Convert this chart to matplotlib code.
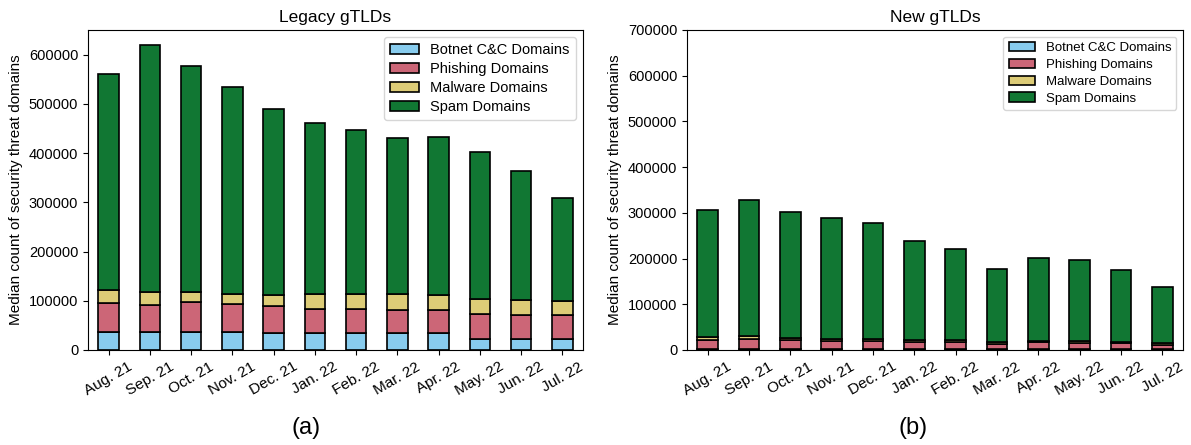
import matplotlib.pyplot as plt
import numpy as np

plt.rcParams['font.family'] = ['Liberation Sans', 'DejaVu Sans']

months = ["Aug. 21", "Sep. 21", "Oct. 21", "Nov. 21", "Dec. 21", "Jan. 22",
          "Feb. 22", "Mar. 22", "Apr. 22", "May. 22", "Jun. 22", "Jul. 22"]

# Legacy gTLDs (median counts)
legacy_botnet = [36000, 36000, 37000, 36000, 35000, 35000, 34000, 34000, 34000, 23000, 22000, 22000]
legacy_phishing = [59000, 56000, 60000, 57000, 54000, 49000, 49000, 48000, 47000, 51000, 50000, 49000]
legacy_malware = [26000, 25000, 20000, 20000, 22000, 29500, 30500, 31000, 31000, 30000, 30000, 28000]
legacy_spam = [439000, 502000, 459000, 422000, 378000, 348500, 333500, 317000, 320000, 298000, 262000, 210000]

# New gTLDs (median counts)
new_botnet = [3000, 3000, 3000, 2500, 2500, 2500, 2500, 2000, 2500, 2500, 2000, 2000]
new_phishing = [19600, 21800, 19600, 17200, 16500, 14500, 14500, 12000, 14500, 13500, 12500, 9600]
new_malware = [5100, 5800, 3400, 3300, 4000, 4000, 4000, 3500, 3000, 3700, 3500, 4400]
new_spam = [278300, 298400, 276000, 265000, 254500, 218000, 200000, 160500, 181000, 176300, 157500, 122000]

labels = ["Botnet C&C Domains", "Phishing Domains", "Malware Domains", "Spam Domains"]
colors = ["#88CCEE", "#CC6677", "#DDCC77", "#117733"]

fig = plt.figure(figsize=(11.91, 4.45), dpi=100)
ax1 = fig.add_axes([0.0739, 0.2135, 0.4156, 0.7191])
ax2 = fig.add_axes([0.5768, 0.2135, 0.4165, 0.7191])


def draw(ax, series, title, ylim, legend_size):
    x = np.arange(len(months))
    bottom = np.zeros(len(months))
    for vals, lab, col in zip(series, labels, colors):
        ax.bar(x, vals, 0.5, bottom=bottom, color=col, edgecolor="black",
               linewidth=1.2, label=lab)
        bottom += np.array(vals)
    ax.set_xlim(-0.5, len(months) - 0.5)
    ax.set_ylim(*ylim)
    ax.set_xticks(x)
    ax.set_xticklabels(months, rotation=30, fontsize=11)
    ax.tick_params(axis="y", labelsize=10.5)
    ax.set_title(title, fontsize=12.5)
    ax.set_ylabel("Median count of security threat domains", fontsize=11)
    ax.legend(loc="upper right", fontsize=legend_size, labelspacing=0.35)


draw(ax1, [legacy_botnet, legacy_phishing, legacy_malware, legacy_spam],
     "Legacy gTLDs", (0, 650000), 10.5)
draw(ax2, [new_botnet, new_phishing, new_malware, new_spam],
     "New gTLDs", (0, 700000), 9.5)

fig.text(0.257, 0.038, "(a)", fontsize=17, ha="center", va="center")
fig.text(0.767, 0.038, "(b)", fontsize=17, ha="center", va="center")

fig.savefig("out.png", dpi=100)
